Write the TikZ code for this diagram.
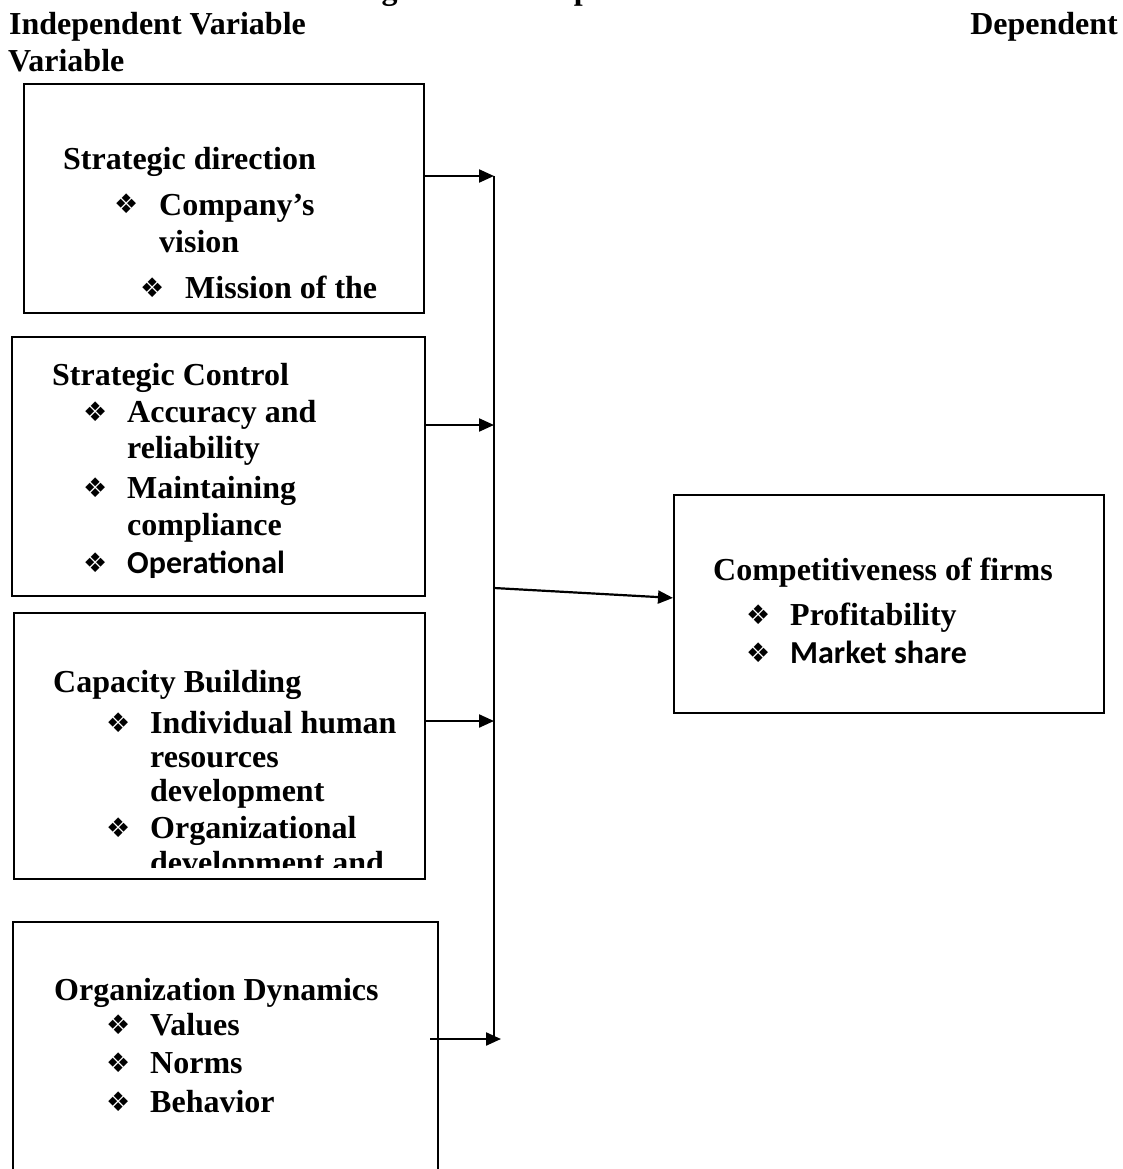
\documentclass[tikz,border=0pt]{standalone}
\usepackage{fontspec}
\setmainfont{Liberation Serif}
\newfontfamily\calibfont{Carlito}
\newfontfamily\dejafont{DejaVu Sans}
\usetikzlibrary{arrows.meta}
\tikzset{
  boxed/.style={draw, line width=1.8pt, inner sep=0pt, anchor=north west, rectangle},
  txt/.style={anchor=base west, inner sep=0pt, font=\fontsize{32}{37}\selectfont\bfseries},
  ctxt/.style={anchor=base west, inner sep=0pt, font=\calibfont\fontsize{32}{37}\selectfont\bfseries},
  bul/.style={anchor=base west, inner sep=0pt, font=\dejafont\fontsize{27}{27}\selectfont},
  conn/.style={line width=2.2pt, -{Triangle[length=15pt,width=13pt]}},
  vline/.style={line width=1.4pt}
}
\begin{document}
\begin{tikzpicture}[x=1pt,y=-1pt]
\clip (0,0) rectangle (1123,1169);
\fill[white] (0,0) rectangle (1123,1169);
% title (cut off at the top, as in the reference)
\node[txt] (title) at (353,0) {Figure 1: Conceptual Framework};
% headers
\node[txt] (indep) at (9,35) {Independent Variable};
\node[txt] (indep2) at (8,72) {Variable};
\node[txt, anchor=base east] (dep) at (1118,35) {Dependent};

% boxes
\node[boxed, minimum width=400pt, minimum height=229pt] (box1) at (23,83) {};
\node[boxed, minimum width=413pt, minimum height=259pt] (box2) at (11,336) {};
\node[boxed, minimum width=411pt, minimum height=266pt] (box3) at (13,612) {};
\node[boxed, draw=none, minimum width=423pt, minimum height=300pt] (box4) at (13,922) {};
\draw[line width=1.8pt] (box4.south west) -- (box4.north west) -- (box4.north east) -- (box4.south east);
\node[boxed, minimum width=430pt, minimum height=218pt] (boxr) at (673,494) {};

% box 1 text
\node[txt] (t11) at (63,170) {Strategic direction};
\node[bul] (b12) at (114,214) {❖};
\node[txt] (t12) at (159,215) {Company’s};
\node[txt] (t13) at (159,252) {vision};
\node[bul] (b14) at (140,297) {❖};
\node[txt] (t14) at (185,298) {Mission of the};

% box 2 text
\node[txt] (t21) at (52,385) {Strategic Control};
\node[bul] (b22) at (83,421) {❖};
\node[txt] (t22) at (127,422) {Accuracy and};
\node[txt] (t23) at (127,458) {reliability};
\node[bul] (b24) at (83,497) {❖};
\node[txt] (t24) at (127,498) {Maintaining};
\node[txt] (t25) at (127,535) {compliance};
\node[bul] (b26) at (83,572) {❖};
\node[ctxt] (t26) at (127,573) {Operational};

% box 3 text
\begin{scope}
\clip (14,613) rectangle (423,867);
\node[txt] (t31) at (53,692) {Capacity Building};
\node[bul] (b32) at (106,732) {❖};
\node[txt] (t32) at (150,733) {Individual human};
\node[txt] (t33) at (150,767) {resources};
\node[txt] (t34) at (150,801) {development};
\node[bul] (b35) at (106,837) {❖};
\node[txt] (t35) at (150,838) {Organizational};
\node[txt] (t36) at (150,873) {development and};
\end{scope}

% box 4 text
\node[txt] (t41) at (54,1000) {Organization Dynamics};
\node[bul] (b42) at (106,1034) {❖};
\node[txt] (t42) at (150,1035) {Values};
\node[bul] (b43) at (106,1072) {❖};
\node[txt] (t43) at (150,1073) {Norms};
\node[bul] (b44) at (106,1111) {❖};
\node[txt] (t44) at (150,1112) {Behavior};

% right box text
\node[txt] (tr1) at (713,580) {Competitiveness of firms};
\node[bul] (br2) at (746,624) {❖};
\node[txt] (tr2) at (790,625) {Profitability};
\node[bul] (br3) at (746,662) {❖};
\node[ctxt] (tr3) at (790,663) {Market share};

% connectors
\coordinate (j1) at (494,176);
\coordinate (j2) at (494,425);
\coordinate (j3) at (494,721);
\coordinate (j4) at (494,1039);
\coordinate (jm) at (494,588);
\coordinate (s4) at (430,1039);
\coordinate (t4) at (501,1039);
\draw[vline] (j1) -- (j4);
\draw[conn] (box1.north east |- j1) -- (j1);
\draw[conn] (box2.north east |- j2) -- (j2);
\draw[conn] (box3.north east |- j3) -- (j3);
\draw[conn] (s4) -- (t4);
\draw[conn] (jm) -- ([yshift=6pt]boxr.west);
\end{tikzpicture}
\end{document}
